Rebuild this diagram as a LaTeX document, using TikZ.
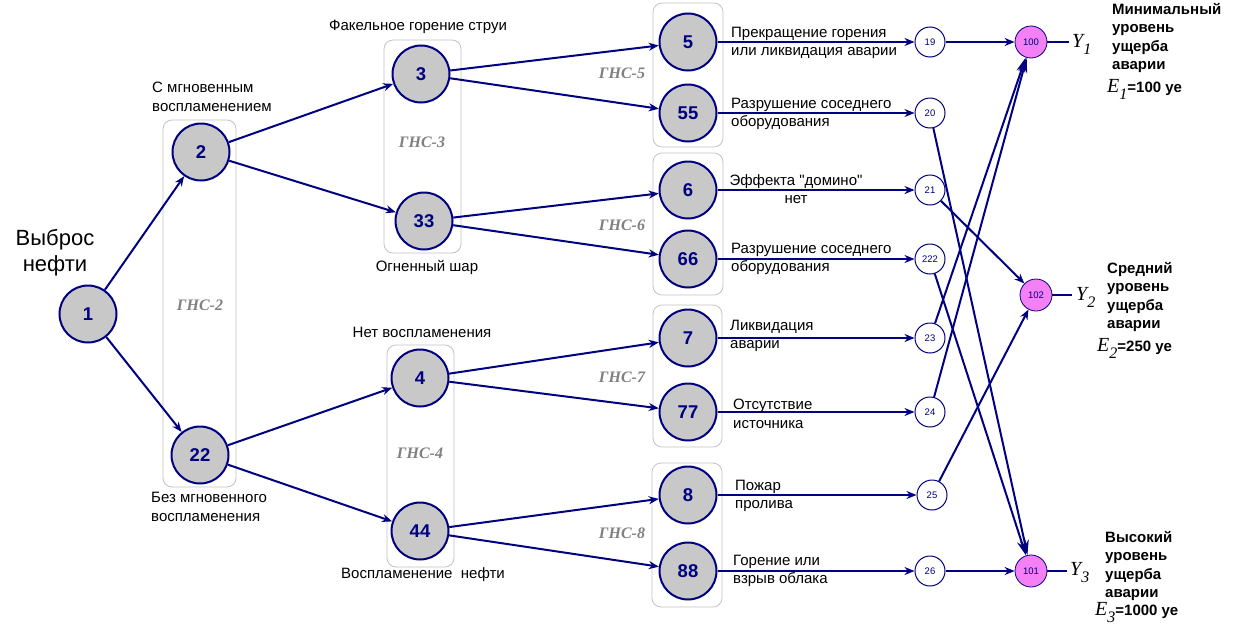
\documentclass[tikz,border=0pt]{standalone}
\usepackage{fontspec}
\setmainfont{Liberation Sans}[Ligatures=TeXOff]
\newfontfamily\tnr{Liberation Serif}
\usetikzlibrary{arrows.meta}
\definecolor{nblue}{RGB}{0,0,128}
\definecolor{ngray}{RGB}{200,200,200}
\definecolor{boxgray}{RGB}{195,195,195}
\definecolor{pinkm}{RGB}{245,128,245}
\definecolor{lblgray}{RGB}{128,128,128}
\tikzset{
  bignode/.style={circle, draw=nblue, line width=2pt, fill=ngray, minimum size=57pt, inner sep=0pt,
    font=\fontsize{18.5}{18}\selectfont\bfseries, text=nblue},
  smallnode/.style={circle, draw=nblue, line width=1pt, fill=white, minimum size=30pt, inner sep=0pt,
    font=\fontsize{9.5}{10}\selectfont, text=nblue},
  pinknode/.style={circle, draw=nblue, line width=0.8pt, fill=pinkm, minimum size=32pt, inner sep=0pt,
    font=\fontsize{9.5}{10}\selectfont, text=nblue},
  grp/.style={draw=boxgray, rounded corners=9pt, line width=0.8pt},
  gns/.style={font=\tnr\fontsize{16}{16}\selectfont\bfseries\itshape, text=lblgray},
  lbl/.style={font=\fontsize{15}{18.5}\selectfont, align=left, anchor=west, inner sep=0pt},
  clbl/.style={font=\fontsize{15}{18.5}\selectfont, align=center, inner sep=0pt},
  rtxt/.style={font=\fontsize{15}{18.5}\selectfont\bfseries, align=left, anchor=west, inner sep=0pt},
  arr/.style={draw=nblue, line width=2pt, -{Stealth[length=10pt,width=8pt]}},
  bigarr/.style={draw=nblue, line width=2pt, -{Stealth[length=15pt,width=9pt]}},
  plain/.style={draw=nblue, line width=2pt},
}
\newcommand{\Ecap}[2]{{\tnr\itshape\fontsize{20}{20}\selectfont E}\raisebox{-7pt}{\tnr\itshape\fontsize{16}{16}\selectfont #1}{\bfseries #2}}
\newcommand{\Ycap}[1]{{\tnr\itshape\fontsize{20}{20}\selectfont Y}\raisebox{-7pt}{\tnr\itshape\fontsize{16}{16}\selectfont #1}}
\begin{document}
\begin{tikzpicture}[x=1pt,y=-1pt]
\useasboundingbox[fill=white] (0,0) rectangle (1241,629);

% group boxes
\draw[grp] (163,120) rectangle (236,487);
\draw[grp] (384,40) rectangle (461,253);
\draw[grp] (387,345) rectangle (454,567);
\draw[grp] (653,3) rectangle (723,147);
\draw[grp] (653,153) rectangle (723,295);
\draw[grp] (653,305) rectangle (722,447);
\draw[grp] (652,463) rectangle (722,607);

\node[gns] (g2) at (200,305) {ГНС-2};
\node[gns] (g3) at (422,142) {ГНС-3};
\node[gns] (g4) at (420,453) {ГНС-4};
\node[gns] (g5) at (622,73) {ГНС-5};
\node[gns] (g6) at (622,225) {ГНС-6};
\node[gns] (g7) at (622,377) {ГНС-7};
\node[gns] (g8) at (622,533) {ГНС-8};

% main nodes
\node[bignode] (n1) at (88,314) {1};
\node[bignode] (n2) at (201,152) {2};
\node[bignode] (n22) at (200,455) {22};
\node[bignode] (n3) at (421,74) {3};
\node[bignode] (n33) at (424,221) {33};
\node[bignode] (n4) at (420,378) {4};
\node[bignode] (n44) at (420,531) {44};
\node[bignode] (n5) at (688,42) {5};
\node[bignode] (n55) at (688,113) {55};
\node[bignode] (n6) at (688,190) {6};
\node[bignode] (n66) at (688,259) {66};
\node[bignode] (n7) at (688,338) {7};
\node[bignode] (n77) at (688,412) {77};
\node[bignode] (n8) at (688,495) {8};
\node[bignode] (n88) at (688,571) {88};

\node[smallnode] (n19) at (930,42) {19};
\node[smallnode] (n20) at (930,113) {20};
\node[smallnode] (n21) at (930,190) {21};
\node[smallnode] (n222) at (930,259) {222};
\node[smallnode] (n23) at (930,338) {23};
\node[smallnode] (n24) at (930,412) {24};
\node[smallnode] (n25) at (932,495) {25};
\node[smallnode] (n26) at (930,571) {26};

\node[pinknode] (n100) at (1031,42) {100};
\node[pinknode] (n102) at (1036,295) {102};
\node[pinknode] (n101) at (1031,571) {101};

\coordinate (y1) at (1069,42);
\coordinate (y2) at (1072,295);
\coordinate (y3) at (1067,571);

% connectors
\draw[arr] (n1) -- (n2);
\draw[arr] (n1) -- (n22);
\draw[arr] (n2) -- (n3);
\draw[arr] (n2) -- (n33);
\draw[arr] (n22) -- (n4);
\draw[arr] (n22) -- (n44);
\draw[arr] (n3) -- (n5);
\draw[arr] (n3) -- (n55);
\draw[arr] (n33) -- (n6);
\draw[arr] (n33) -- (n66);
\draw[arr] (n4) -- (n7);
\draw[arr] (n4) -- (n77);
\draw[arr] (n44) -- (n8);
\draw[arr] (n44) -- (n88);
\draw[arr] (n5) -- (n19);
\draw[arr] (n55) -- (n20);
\draw[arr] (n6) -- (n21);
\draw[arr] (n66) -- (n222);
\draw[arr] (n7) -- (n23);
\draw[arr] (n77) -- (n24);
\draw[arr] (n8) -- (n25);
\draw[arr] (n88) -- (n26);
\draw[arr] (n19) -- (n100);
\draw[arr] (n26) -- (n101);
\draw[bigarr] (n23) -- (n100);
\draw[bigarr] (n24) -- (n100);
\draw[arr] (n21) -- (n102);
\draw[arr] (n25) -- (n102);
\draw[bigarr] (n20) -- (n101);
\draw[bigarr] (n222) -- (n101);
\draw[plain] (n100) -- (y1);
\draw[plain] (n102) -- (y2);
\draw[plain] (n101) -- (y3);

% texts
\node[font=\fontsize{22}{26}\selectfont, align=center, inner sep=0pt] (t1) at (55,253) {Выброс\\нефти};
\node[lbl] (t2) at (152,97) {С мгновенным\\воспламенением};
\node[lbl] (t22) at (151,507) {Без мгновенного\\воспламенения};
\node[clbl] (t3) at (418,27) {Факельное горение струи};
\node[clbl] (t33) at (427,267) {Огненный шар};
\node[clbl] (t4) at (422,332) {Нет воспламенения};
\node[clbl] (t44) at (423,575) {Воспламенение\ \ нефти};

\node[lbl] (e5) at (731,43) {Прекращение горения\\или ликвидация аварии};
\node[lbl] (e55) at (731,114) {Разрушение соседнего\\оборудования};
\node[clbl] (e6) at (796,189) {Эффекта "домино"\\нет};
\node[lbl] (e66) at (731,259) {Разрушение соседнего\\оборудования};
\node[lbl] (e7) at (730,336) {Ликвидация\\аварии};
\node[lbl] (e77) at (733,414) {Отсутствие\\источника};
\node[lbl] (e8) at (735,496) {Пожар\\пролива};
\node[lbl] (e88) at (733,571) {Горение или\\взрыв облака};

\node[anchor=west, inner sep=0pt] (ly1) at (1072,44) {\Ycap{1}};
\node[anchor=west, inner sep=0pt] (ly2) at (1076,297) {\Ycap{2}};
\node[anchor=west, inner sep=0pt] (ly3) at (1070,573) {\Ycap{3}};

\node[rtxt] (r1) at (1112,38) {Минимальный\\уровень\\ущерба\\аварии};
\node[anchor=west, inner sep=0pt, font=\fontsize{15}{15}\selectfont] (re1) at (1107,89) {\Ecap{1}{=100 уе}};
\node[rtxt] (r2) at (1107,297) {Средний\\уровень\\ущерба\\аварии};
\node[anchor=west, inner sep=0pt, font=\fontsize{15}{15}\selectfont] (re2) at (1097,348) {\Ecap{2}{=250 уе}};
\node[rtxt] (r3) at (1105,566) {Высокий\\уровень\\ущерба\\аварии};
\node[anchor=west, inner sep=0pt, font=\fontsize{15}{15}\selectfont] (re3) at (1095,613) {\Ecap{3}{=1000 уе}};
\end{tikzpicture}
\end{document}
